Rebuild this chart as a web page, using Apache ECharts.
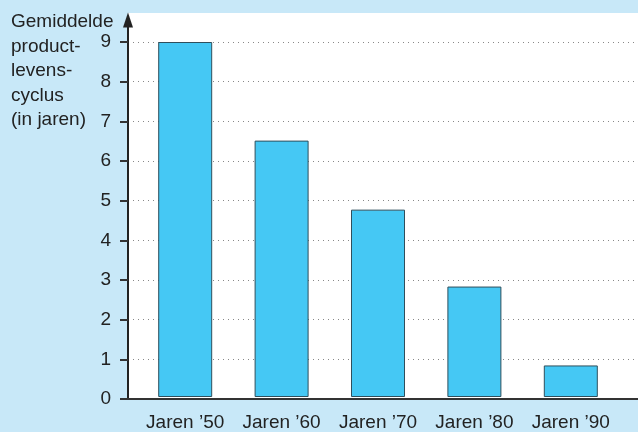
<!DOCTYPE html>
<html>
<head>
<meta charset="utf-8">
<script src="https://cdn.jsdelivr.net/npm/echarts@6/dist/echarts.min.js"></script>
<style>
html,body{margin:0;padding:0;background:#c8e8f8;}
#main{width:638px;height:432px;}
</style>
</head>
<body>
<div id="main"></div>
<script>
var categories = ["Jaren \u201950", "Jaren \u201960", "Jaren \u201970", "Jaren \u201980", "Jaren \u201990"];
var values = [9, 6.5, 4.75, 2.8, 0.8];
var yTitle = ["Gemiddelde", "product-", "levens-", "cyclus", "(in jaren)"];

var font = "Liberation Sans";
var myChart = echarts.init(document.getElementById('main'));
var option = {
	backgroundColor: '#c8e8f8',
	animation: false,
	textStyle: { fontFamily: font },
	graphic: [{
		type: 'text',
		left: 11,
		top: 10,
		style: {
			text: yTitle.join("\n"),
			fontFamily: font,
			fontSize: 19,
			lineHeight: 24.5,
			fill: '#222'
		}
	}],
	grid: [
		// white area
		{ left: 128, right: 0, top: 13, bottom: 33, show: true, backgroundColor: '#fff', borderWidth: 0 },
		// y scale + gridlines + x axis line
		{ left: 128, right: 0, top: 42, bottom: 33 },
		// y axis line with arrow
		{ left: 128, right: 0, top: 20, bottom: 33 },
		// bars
		{ left: 137, right: 19, top: 42, bottom: 33 }
	],
	xAxis: [
		{ gridIndex: 0, type: 'value', show: false },
		{ gridIndex: 1, type: 'value', min: 0, max: 1,
		  axisLine: { show: true, lineStyle: { color: '#333', width: 2 } },
		  axisTick: { show: false }, axisLabel: { show: false }, splitLine: { show: false } },
		{ gridIndex: 2, type: 'value', show: false },
		{ gridIndex: 3, type: 'category', data: categories,
		  axisLine: { show: false }, axisTick: { show: false },
		  axisLabel: { color: '#222', fontSize: 19, margin: 16, fontFamily: font, interval: 0, hideOverlap: false } }
	],
	yAxis: [
		{ gridIndex: 0, type: 'value', show: false },
		{ gridIndex: 1, type: 'value', min: 0, max: 9, interval: 1,
		  axisLine: { show: false },
		  axisTick: { show: true, length: 8, lineStyle: { color: '#333', width: 2 } },
		  axisLabel: { color: '#222', fontSize: 19, margin: 17, fontFamily: font },
		  splitLine: { show: true, lineStyle: { color: '#888', type: [1, 4], width: 1 } } },
		{ gridIndex: 2, type: 'value', min: 0, max: 1,
		  axisLine: { show: true, symbol: ['none', 'triangle'], symbolSize: [10, 15],
		              lineStyle: { color: '#222', width: 2 } },
		  axisTick: { show: false }, axisLabel: { show: false }, splitLine: { show: false } },
		{ gridIndex: 3, type: 'value', min: 0, max: 9, show: false }
	],
	series: [{
		type: 'bar',
		xAxisIndex: 3,
		yAxisIndex: 3,
		data: values,
		barWidth: 54,
		itemStyle: { color: '#45c8f4', borderColor: '#2f4f5c', borderWidth: 1 }
	}]
};
myChart.setOption(option);
</script>
</body>
</html>
